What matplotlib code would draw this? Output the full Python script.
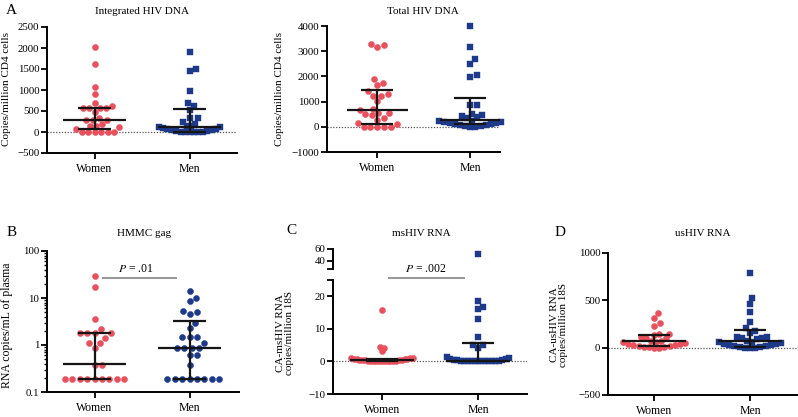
import matplotlib
matplotlib.use("Agg")
import matplotlib.pyplot as plt
import numpy as np

plt.rcParams["font.family"] = ["Liberation Serif", "DejaVu Serif"]
plt.rcParams["mathtext.fontset"] = "stix"

RED = "#ea4f5c"
BLUE = "#1d3a8a"

groups = ["Women", "Men"]

# A: integrated HIV DNA (copies/million CD4 cells)
int_women = [2030, 1610, 1070, 910, 690, 610, 560, 560, 560, 560, 470, 330, 290, 285,
             290, 190, 150, 150, 110, 70, 0, 0, 0, 0, 0, 0]
int_men = [1910, 1500, 1460, 975, 680, 620, 520, 330, 330, 245, 200,
           150, 145, 130, 120, 100, 80, 70, 50, 40, 30, 20, 10, 5, 0, 0, 0, 0]
int_med = [280, 125]
int_q1 = [65, 0]
int_q3 = [570, 555]

# A: total HIV DNA
tot_women = [3280, 3230, 3150, 1880, 1750, 1640, 1420, 1310, 1220, 1220, 1010, 720, 670,
             560, 530, 510, 450, 360, 280, 140, 120, 0, 0, 0, 0, 0]
tot_men = [4010, 3150, 2680, 2480, 2060, 1960, 860, 860, 520, 470, 440, 380, 360,
           250, 230, 200, 180, 160, 140, 120, 100, 80, 60, 40, 20, 0, 0]
tot_med = [650, 280]
tot_q1 = [120, 110]
tot_q3 = [1470, 1150]

# B: HMMC gag (RNA copies/mL of plasma)
gag_women = [30, 17, 3.6, 2.2, 1.8, 1.8, 1.8, 1.8, 1.4, 1.1, 1.1, 0.85, 0.38, 0.38,
             0.19, 0.19, 0.19, 0.19, 0.19, 0.19, 0.19, 0.19, 0.19]
gag_men = [14.3, 10.2, 8.8, 5.2, 5.0, 4.5, 3.0, 2.3, 1.45, 1.45, 1.45, 1.1, 0.85, 0.85,
           0.85, 0.85, 0.6, 0.6, 0.38, 0.19, 0.19, 0.19, 0.19, 0.19, 0.19, 0.19, 0.19]
gag_med = [0.40, 0.85]
gag_q1 = [0.19, 0.19]
gag_q3 = [1.8, 3.3]

# C: CA-msHIV RNA (copies/million 18S)
ms_women = [15.9, 4.4, 4.0, 3.1, 1.0, 1.0, 0.9, 0.8, 0.8, 0.7, 0.6, 0.5, 0.5, 0.4, 0.3,
            0.3, 0.2, 0.2, 0.1, 0.1, 0.1, 0, 0, 0, 0, 0, 0]
ms_men = [52, 18.6, 16.8, 16.0, 13.0, 7.4, 5.1, 5.1, 4.1, 1.3, 1.0, 0.8, 0.6, 0.5, 0.4,
          0.3, 0.2, 0.1, 0.1, 0, 0, 0, 0, 0, 0, 0, 0, 0]
ms_med = [0.3, 0.1]
ms_q1 = [0.0, 0.0]
ms_q3 = [0.8, 5.6]

# D: CA-usHIV RNA (copies/million 18S)
us_women = [365, 310, 260, 228, 147, 140, 130, 110, 98, 98, 75, 70,
            62, 55, 48, 42, 36, 30, 25, 20, 15, 10, 6, 3, 0, 0]
us_men = [786, 523, 460, 375, 267, 207, 179, 155, 112, 112, 98, 98, 95,
          70, 60, 55, 50, 40, 35, 30, 25, 20, 15, 10, 5, 0, 0, 0]
us_med = [66, 70]
us_q1 = [14, 8]
us_q3 = [130, 182]

W, H = 798, 417
fig = plt.figure(figsize=(W / 100, H / 100), dpi=100)


def add_axes(x0, y0, x1, y1):
    # box given in pixels from the top-left corner
    return fig.add_axes([x0 / W, 1 - y1 / H, (x1 - x0) / W, (y1 - y0) / H])


def style(ax):
    for s in ("top", "right"):
        ax.spines[s].set_visible(False)
    for s in ("left", "bottom"):
        ax.spines[s].set_linewidth(1.4)
    ax.tick_params(axis="y", which="both", length=4, width=1.3, labelsize=7.8, pad=1.5)
    ax.tick_params(axis="x", length=4, width=1.3, labelsize=8.5, pad=3)
    ax.set_xticks([0, 1])
    ax.set_xticklabels(groups)


def swarm_offsets(ax, values, spacing, half_width=31.0):
    """beeswarm in pixel space, returns x offsets in data units.
    dense rows wider than half_width get squeezed (points overlap, like Prism)"""
    trans = ax.transData
    pts = np.column_stack([np.zeros(len(values)), values])
    ypix = trans.transform(pts)[:, 1]
    xscale = trans.transform((1, 0))[0] - trans.transform((0, 0))[0]
    order = np.argsort(ypix, kind="stable")
    placed = []
    offs = np.zeros(len(values))
    for i in order:
        y = ypix[i]
        cands = [0.0]
        for px, py in placed:
            dy = y - py
            if abs(dy) < spacing:
                dx = np.sqrt(spacing ** 2 - dy ** 2)
                cands += [px + dx, px - dx]
        cands.sort(key=abs)
        c = 0.0
        for c in cands:
            if all((c - px) ** 2 + (y - py) ** 2 >= spacing ** 2 - 1e-6 for px, py in placed):
                break
        placed.append((c, y))
        offs[i] = c
    # local squeeze
    out = offs.copy()
    for i in range(len(values)):
        near = np.abs(ypix - ypix[i]) < 2 * spacing
        widest = np.abs(offs[near]).max()
        if widest > half_width:
            out[i] = offs[i] * half_width / widest
    return out / xscale


def draw_group(ax, pos, values, color, marker, med, q1, q3, spacing=7.0, ms=4.4):
    values = np.asarray(values, dtype=float)
    offs = swarm_offsets(ax, values, spacing)
    ax.plot(pos + offs, values, ls="none", marker=marker, color=color, ms=ms,
            mec=color, mew=0.3, zorder=3, clip_on=False)
    if med is None:
        return
    ax.hlines(med, pos - 0.33, pos + 0.33, color="#151515", lw=1.6, zorder=4)
    ax.hlines([q1, q3], pos - 0.17, pos + 0.17, color="#151515", lw=1.6, zorder=4)
    ax.vlines(pos, q1, q3, color="#151515", lw=1.6, zorder=4)


def zero_line(ax):
    ax.axhline(0, color="#555555", ls=(0, (1, 1.3)), lw=0.9, zorder=1)


# ---- A left: integrated HIV DNA
ax = add_axes(47, 27, 237, 153)
style(ax)
ax.set_xlim(-0.5, 1.5)
ax.set_ylim(-500, 2500)
ax.set_yticks(range(-500, 2501, 500))
zero_line(ax)
draw_group(ax, 0, int_women, RED, "o", int_med[0], int_q1[0], int_q3[0], spacing=6.5)
draw_group(ax, 1, int_men, BLUE, "s", int_med[1], int_q1[1], int_q3[1], spacing=6.5)

# ---- A right: total HIV DNA
ax = add_axes(327, 26, 500, 152)
style(ax)
ax.set_xlim(-0.54, 1.32)
ax.set_ylim(-1000, 4000)
ax.set_yticks(range(-1000, 4001, 1000))
zero_line(ax)
draw_group(ax, 0, tot_women, RED, "o", tot_med[0], tot_q1[0], tot_q3[0], spacing=6.8)
draw_group(ax, 1, tot_men, BLUE, "s", tot_med[1], tot_q1[1], tot_q3[1], spacing=6.8)

# ---- B: HMMC gag (log)
ax = add_axes(47, 251, 239, 392)
style(ax)
ax.set_xlim(-0.5, 1.52)
ax.set_yscale("log")
ax.set_ylim(0.1, 100)
ax.set_yticks([0.1, 1, 10, 100])
ax.set_yticklabels(["0.1", "1", "10", "100"])
ax.yaxis.set_minor_locator(matplotlib.ticker.LogLocator(base=10, subs=np.arange(2, 10)))
ax.yaxis.set_minor_formatter(matplotlib.ticker.NullFormatter())
ax.tick_params(axis="y", which="minor", length=2.5, width=1.0)
draw_group(ax, 0, gag_women, RED, "o", gag_med[0], gag_q1[0], gag_q3[0], spacing=7.4)
draw_group(ax, 1, gag_men, BLUE, "o", gag_med[1], gag_q1[1], gag_q3[1], spacing=7.4)
ax.plot([0.084, 0.86], [26, 26], color="#9a9a9a", lw=1.5, clip_on=False)
ax.text(0.43, 41, r"$P$ = .01", ha="center", va="center", fontsize=8.5)

# ---- C: msHIV RNA, broken axis
ax_top = add_axes(333, 249, 527, 269)
ax = add_axes(333, 280, 527, 394)
style(ax)
ax.set_xlim(-0.51, 1.51)
ax.set_ylim(-10, 25)
ax.set_yticks([-10, 0, 10, 20])
ax.set_yticks([25], minor=True)
ax.tick_params(axis="y", which="minor", length=4, width=1.3)
zero_line(ax)
ms_men_low = [v for v in ms_men if v < 26]
ms_men_high = [v for v in ms_men if v >= 26]
draw_group(ax, 0, ms_women, RED, "o", ms_med[0], ms_q1[0], ms_q3[0], spacing=6.0)
draw_group(ax, 1, ms_men_low, BLUE, "s", ms_med[1], ms_q1[1], ms_q3[1], spacing=6.0)
ax.plot([0.07, 0.85], [25.7, 25.7], color="#9a9a9a", lw=1.5, clip_on=False)
ax.text(0.46, 28.4, r"$P$ = .002", ha="center", va="center", fontsize=8.5)

for s in ("top", "right", "bottom"):
    ax_top.spines[s].set_visible(False)
ax_top.spines["left"].set_linewidth(1.4)
ax_top.set_facecolor("none")
ax_top.set_xlim(-0.51, 1.51)
ax_top.set_ylim(26.3, 60)
ax_top.set_xticks([])
ax_top.set_yticks([40, 60])
ax_top.set_yticks([26.3], minor=True)
ax_top.tick_params(axis="y", which="both", length=4, width=1.3, labelsize=7.8, pad=1.5)
draw_group(ax_top, 1, ms_men_high, BLUE, "s", None, None, None)

# ---- D: usHIV RNA
ax = add_axes(608, 253, 797, 395)
style(ax)
ax.set_xlim(-0.48, 1.49)
ax.set_ylim(-500, 1000)
ax.set_yticks([-500, 0, 500, 1000])
zero_line(ax)
draw_group(ax, 0, us_women, RED, "o", us_med[0], us_q1[0], us_q3[0], spacing=6.3)
draw_group(ax, 1, us_men, BLUE, "s", us_med[1], us_q1[1], us_q3[1], spacing=6.3)


def ftext(x, y, s, **kw):
    fig.text(x / W, 1 - y / H, s, **kw)


# titles
ftext(142, 11, "Integrated HIV DNA", ha="center", va="center", fontsize=8)
ftext(423, 11, "Total HIV DNA", ha="center", va="center", fontsize=8)
ftext(144, 233, "HMMC gag", ha="center", va="center", fontsize=8)
ftext(421, 234, "msHIV RNA", ha="center", va="center", fontsize=8)
ftext(703, 234, "usHIV RNA", ha="center", va="center", fontsize=8)

# panel letters
ftext(11, 10, "A", ha="center", va="center", fontsize=11)
ftext(12, 233, "B", ha="center", va="center", fontsize=11)
ftext(291, 231, "C", ha="center", va="center", fontsize=11)
ftext(560, 233, "D", ha="center", va="center", fontsize=11)

# y labels
ftext(7, 89, "Copies/million CD4 cells", rotation=90, ha="center", va="center", fontsize=8)
ftext(280, 89, "Copies/million CD4 cells", rotation=90, ha="center", va="center", fontsize=8)
ftext(7, 325, "RNA copies/mL of plasma", rotation=90, ha="center", va="center", fontsize=8.5)
ftext(285, 333, "CA-msHIV RNA\ncopies/million 18S", rotation=90, ha="center", va="center",
      fontsize=8, linespacing=1.0)
ftext(559, 325, "CA-usHIV RNA\ncopies/million 18S", rotation=90, ha="center", va="center",
      fontsize=8, linespacing=1.0)

fig.savefig("out.png", dpi=100)
